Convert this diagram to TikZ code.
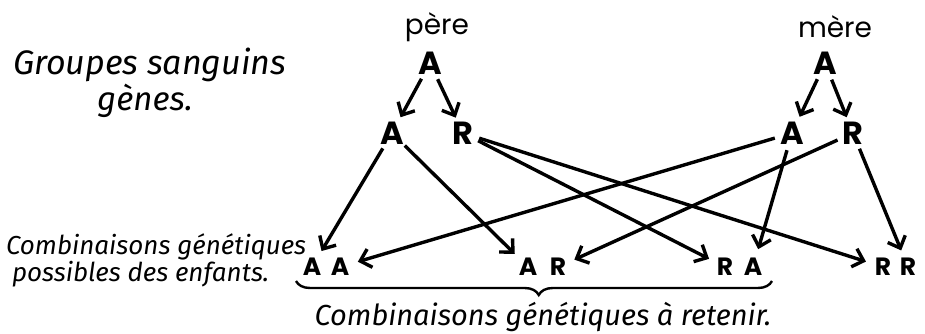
\documentclass[tikz,border=0pt]{standalone}
\usepackage{fontspec}
\setmainfont{Poppins}
\newfontfamily\handfont{Fira Sans}
\usetikzlibrary{arrows.meta,decorations.pathreplacing}

\tikzset{
  gene/.style={circle, inner sep=0pt, font=\fontsize{32}{32}\selectfont\bfseries},
  kid/.style={circle, inner sep=3pt, font=\fontsize{25}{25}\selectfont\bfseries},
  parent/.style={font=\fontsize{28}{28}\selectfont},
  note/.style={font=\handfont\itshape\fontsize{26}{24}\selectfont, align=left},
}

\begin{document}
\begin{tikzpicture}[x=1pt, y=-1pt, node distance=36pt, line width=3.4pt, >={Straight Barb[length=10pt,width=19pt]}]
\useasboundingbox (0,0) rectangle (925,334);

% parents
\node (pere) [parent] at (437,27) {père};
\node (mere) [parent] at (835,27) {mère};
\node (fa) [gene, below of=pere, xshift=-7pt] {A};
\node (ma) [gene, below of=mere, xshift=-10pt] {A};

% genes
\node (fga) [gene] at (392,133) {A};
\node (fgr) [gene] at (463,133) {R};
\node (mga) [gene] at (792,133) {A};
\node (mgr) [gene] at (853,133) {R};

% children
\node (aa1) [kid] at (312,267) {A};
\node (aa2) [kid] at (340,267) {A};
\node (ar1) [kid] at (528,267) {A};
\node (ar2) [kid] at (558,267) {R};
\node (ra1) [kid] at (725,267) {R};
\node (ra2) [kid] at (753,267) {A};
\node (rr1) [kid] at (883,267) {R};
\node (rr2) [kid] at (908,267) {R};

% texts
\node (groupes) [note, font=\handfont\itshape\fontsize{34}{34}\selectfont, anchor=west] at (8,65) {Groupes sanguins};
\node (genes) [note, font=\handfont\itshape\fontsize{33}{33}\selectfont] at (145,101) {gènes.};
\node (possibles) [note, anchor=west] at (1,260) {Combinaisons génétiques\\\hspace{6pt}possibles des enfants.};
\node (retenir) [note, font=\handfont\itshape\fontsize{29}{29}\selectfont] at (543,317) {Combinaisons génétiques à retenir.};

\draw[->] (fa) -- (fga);
\draw[->] (fa) -- (fgr);
\draw[->] (ma) -- (mga);
\draw[->] (ma) -- (mgr);

\draw[->] (fga) -- (aa1);
\draw[->] (fga) -- (ar1);
\draw[->] (fgr) -- (ra1);
\draw[->] (fgr) -- (rr1);
\draw[->] (mga) -- (aa2);
\draw[->] (mga) -- (ra2);
\draw[->] (mgr) -- (ar2);
\draw[->] (mgr) -- (rr2);

\coordinate (bl) at (296,281);
\coordinate (br) at (772,281);
\draw[line width=2.4pt, decorate, decoration={brace, mirror, amplitude=14pt, aspect=0.51}] (bl) -- (br);
\end{tikzpicture}
\end{document}
